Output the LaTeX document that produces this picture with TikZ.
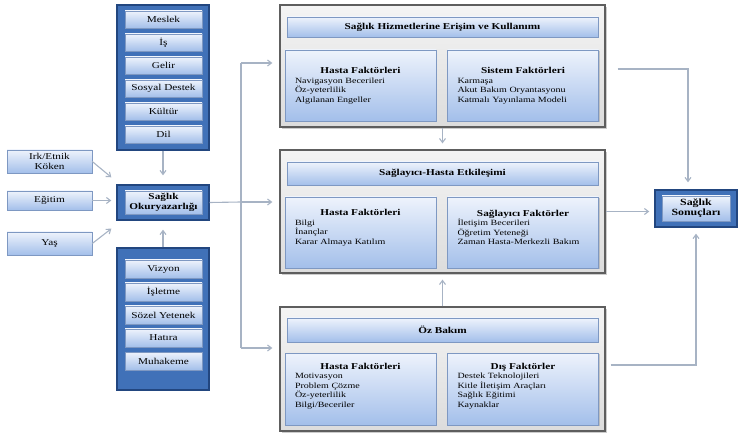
\documentclass[tikz,border=0pt]{standalone}
\usepackage{fontspec}
\setmainfont{Liberation Serif}[FakeStretch=1.25]
\usetikzlibrary{arrows.meta,calc,shadows}

\definecolor{colfill}{HTML}{4071B8}
\definecolor{coldraw}{HTML}{22467F}
\definecolor{lbtop}{HTML}{EEF3FC}
\definecolor{lbbot}{HTML}{A3BFEA}
\definecolor{lbdraw}{HTML}{7E98C2}
\definecolor{blkdraw}{HTML}{5E5E5E}
\definecolor{blktop}{HTML}{F4F4F4}
\definecolor{blkbot}{HTML}{DCDCDC}
\definecolor{linkcol}{HTML}{A7B3C4}

\newcommand{\facthead}[1]{\makebox[131pt][c]{\fontsize{9}{9.5}\selectfont\bfseries #1}}

\tikzset{
  column/.style={draw=coldraw, line width=1.4pt, fill=colfill, inner sep=0pt},
  lightbox/.style={draw=lbdraw, line width=0.5pt, top color=lbtop, bottom color=lbbot,
    inner sep=1pt, align=center, font=\fontsize{9}{9.5}\selectfont,
    drop shadow={shadow xshift=1pt, shadow yshift=-1pt, opacity=0.35}},
  item/.style={lightbox, minimum width=77pt, minimum height=17pt},
  sidebox/.style={lightbox, minimum width=85pt, font=\fontsize{9}{9.5}\selectfont},
  block/.style={draw=blkdraw, line width=1.2pt, top color=blktop, bottom color=blkbot,
    inner sep=0pt, drop shadow={shadow xshift=2pt, shadow yshift=-2pt, opacity=0.4}},
  titlebar/.style={lightbox, minimum width=311pt, font=\fontsize{9}{9.5}\selectfont\bfseries},
  subbox/.style={lightbox, minimum width=151pt, minimum height=71pt},
  factors/.style={text width=131pt, align=left, inner sep=0pt,
    font=\fontsize{8}{9.5}\selectfont},
  link/.style={draw=linkcol, line width=1.1pt},
  arr/.style={link, -{Straight Barb[length=4pt, width=6pt]}},
}

\begin{document}
\begin{tikzpicture}[x=1pt, y=-1pt]
\useasboundingbox (0,0) rectangle (741,435);

% ---- upper column of social factors
\node[column, minimum width=92pt, minimum height=145pt] (coltop) at (163,77.5) {};
\node[item] (meslek) at (163.5,19.5) {Meslek};
\node[item] (is) at (163.5,42.5) {İş};
\node[item] (gelir) at (163.5,65.5) {Gelir};
\node[item] (sosyal) at (163.5,88.5) {Sosyal Destek};
\node[item] (kultur) at (163.5,111.5) {Kültür};
\node[item] (dil) at (163.5,134.5) {Dil};

% ---- health literacy
\node[column, minimum width=92pt, minimum height=35pt] (okur) at (163,202.5) {};
\node[lightbox, minimum width=77pt, minimum height=23pt, inner sep=0.5pt,
  font=\fontsize{9}{9.5}\selectfont\bfseries]
  (okurin) at (163.5,202.5) {Sağlık\\Okuryazarlığı};

% ---- lower column of cognitive factors
\node[column, minimum width=92pt, minimum height=142pt] (colbot) at (163,319) {};
\node[item, minimum height=18pt] (vizyon) at (163.5,269) {Vizyon};
\node[item, minimum height=18pt] (isletme) at (163.5,292) {İşletme};
\node[item, minimum height=18pt] (sozel) at (163.5,315) {Sözel Yetenek};
\node[item, minimum height=18pt] (hatira) at (163.5,338) {Hatıra};
\node[item, minimum height=18pt] (muhakeme) at (163.5,361) {Muhakeme};

% ---- individual factors on the left
\node[sidebox, minimum height=23pt] (irk) at (49.5,161.5) {Irk/Etnik\\Köken};
\node[sidebox, minimum height=19pt] (egitim) at (49.5,200.5) {Eğitim};
\node[sidebox, minimum height=23pt] (yas) at (49.5,243.5) {Yaş};

% ---- access and use of health services
\node[block, minimum width=325pt, minimum height=122pt] (top) at (442.5,66) {};
\node[titlebar, minimum height=20pt] (toptitle) at (442.5,27) {Sağlık Hizmetlerine Erişim ve Kullanımı};
\node[subbox] (topl) at (360.5,85.5) {};
\node[subbox] (topr) at (523,85.5) {};
\node[factors] (topltxt) at (topl) {\facthead{Hasta Faktörleri}\\Navigasyon Becerileri\\Öz-yeterlilik\\Algılanan Engeller};
\node[factors] (toprtxt) at (topr) {\facthead{Sistem Faktörleri}\\Karmaşa\\Akut Bakım Oryantasyonu\\Katmalı Yayınlama Modeli};

% ---- provider-patient interaction
\node[block, minimum width=325pt, minimum height=123pt] (mid) at (442.5,211.5) {};
\node[titlebar, minimum height=23pt] (midtitle) at (442.5,173.5) {Sağlayıcı-Hasta Etkileşimi};
\node[subbox] (midl) at (360.5,232.5) {};
\node[subbox] (midr) at (523,232.5) {};
\node[factors] (midltxt) at ($(midl)+(0,-5)$) {\facthead{Hasta Faktörleri}\\Bilgi\\İnançlar\\Karar Almaya Katılım};
\node[factors] (midrtxt) at ($(midr)+(0,-5)$) {\facthead{Sağlayıcı Faktörler}\\İletişim Becerileri\\Öğretim Yeteneği\\Zaman Hasta-Merkezli Bakım};

% ---- self care
\node[block, minimum width=325pt, minimum height=124pt] (bot) at (442.5,369) {};
\node[titlebar, minimum height=24pt] (bottitle) at (442.5,330) {Öz Bakım};
\node[subbox, minimum height=72pt] (botl) at (360.5,389) {};
\node[subbox, minimum height=72pt] (botr) at (523,389) {};
\node[factors] (botltxt) at ($(botl)+(0,-3)$) {\facthead{Hasta Faktörleri}\\Motivasyon\\Problem Çözme\\Öz-yeterlilik\\Bilgi/Beceriler};
\node[factors] (botrtxt) at ($(botr)+(0,-3)$) {\facthead{Dış Faktörler}\\Destek Teknolojileri\\Kitle İletişim Araçları\\Sağlık Eğitimi\\Kaynaklar};

% ---- outcomes
\node[column, minimum width=82pt, minimum height=37pt] (sonuc) at (696,208.5) {};
\node[lightbox, minimum width=68pt, minimum height=25pt, inner sep=0.5pt,
  font=\fontsize{9.5}{10}\selectfont\bfseries]
  (sonucin) at (696,208.5) {Sağlık\\Sonuçları};

% ---- connectors into health literacy
\draw[arr] (irk.east) -- ($(okur.north west)+(-5,-7)$);
\draw[arr, shorten >=5pt] (egitim.east) -- (egitim.east -| okur.west);
\draw[arr] (yas.east) -- ($(okur.south west)+(-5,8)$);
\draw[arr, shorten >=9pt] (coltop.south) -- (okur.north);
\draw[arr, shorten >=9pt] (colbot.north) -- (okur.south);

% ---- distribution to the three blocks
\coordinate (split) at (241,202);
\coordinate (jtop) at (241,63);
\coordinate (jbot) at (241,348);
\draw[link] (okur.east) -- (split);
\draw[link] (jtop) -- (jbot);
\draw[arr, shorten >=7pt] (jtop) -- (jtop -| top.west);
\draw[arr, shorten >=7pt] (split) -- (split -| mid.west);
\draw[arr, shorten >=7pt] (jbot) -- (jbot -| bot.west);

% ---- between blocks
\draw[arr, shorten >=6pt] (top.south) -- (mid.north);
\draw[arr, shorten >=6pt] (bot.north) -- (mid.south);

% ---- towards outcomes
\draw[arr, shorten >=7pt] ($(top.east)+(12,3)$) -| ($(sonuc.north)+(-8,0)$);
\draw[arr, shorten >=5pt] (mid.east) -- (mid.east -| sonuc.west);
\draw[arr, shorten >=6pt] ($(bot.east)+(5,-4)$) -| (sonuc.south);
\end{tikzpicture}
\end{document}
